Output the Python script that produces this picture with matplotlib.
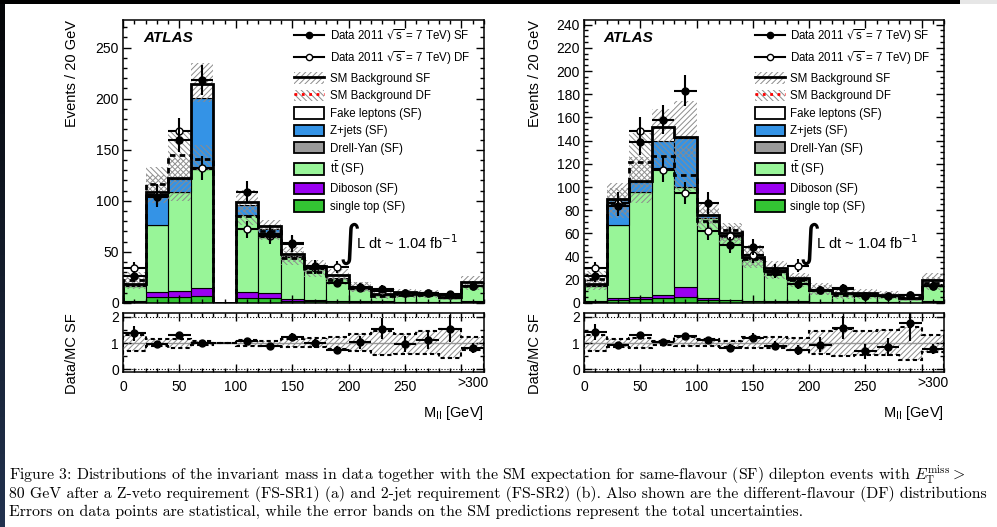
import numpy as np
import matplotlib
matplotlib.use('Agg')
import matplotlib.pyplot as plt
from matplotlib.patches import Patch, Rectangle
from matplotlib.lines import Line2D
from matplotlib.ticker import MultipleLocator, FixedLocator

plt.rcParams['font.family'] = ['Liberation Sans', 'DejaVu Sans']
plt.rcParams['hatch.linewidth'] = 0.7

# 20 GeV bins in m_ll, last bin is the >300 overflow
edges = np.arange(0, 340, 20)
centers = edges[:-1] + 10

# ---- FS-SR1 (Z-veto), same-flavour MC components
sr1_single_top = [1, 5.5, 6, 7, 0, 5, 4.5, 2, 2, 1.5, 1, 1, 1, 0.8, 0.8, 1]
sr1_diboson = [0.5, 5.5, 6, 8, 0, 6, 5.5, 1.5, 1, 0.5, 0.5, 0.5, 0.3, 0.3, 0.3, 0.5]
sr1_ttbar = [15, 65.5, 97, 116, 0, 75, 55, 42, 30, 22, 12.5, 6.5, 6.7, 6.9, 3.9, 16]
sr1_drell_yan = [0, 0, 0, 0, 0, 0, 0, 0, 0, 0, 0, 0, 0, 0, 0, 0]
sr1_zjets = [1, 30, 12, 70, 0, 10, 7, 0.5, 0.5, 0.5, 0.5, 0.2, 0.5, 0.2, 0.2, 0.5]
sr1_fakes = [1.5, 2.5, 1, 13, 0, 3, 3, 1.5, 2.5, 2.5, 1, 0.8, 1.9, 0.8, 0.6, 3]
sr1_mc_df = [23, 116, 145, 141, 0, 85, 70, 44, 30, 23, 15, 7, 8, 8, 6, 17]
sr1_data_sf = [26, 104, 160, 218, np.nan, 109, 68, 59, 36, 20, 16, 14, 10, 10, 9, 17]
sr1_data_df = [34, 106, 168, 132, np.nan, 72, 66, 58, 34, 35, 15, 12, 10, 10, 8, 17]
sr1_band_lo = [0.7, 0.9, 0.82, 0.92, 1, 0.9, 0.88, 0.85, 0.85, 0.78, 0.7, 0.55, 0.6, 0.6, 0.45, 0.75]
sr1_band_hi = [1.3, 1.15, 1.16, 1.1, 1, 1.12, 1.08, 1.15, 1.18, 1.22, 1.35, 1.45, 1.35, 1.45, 1.55, 1.25]

# ---- FS-SR2 (2 jets), same-flavour MC components
sr2_single_top = [1, 3, 3.5, 4, 5, 3, 2.5, 1.5, 1, 1, 0.8, 0.8, 0.7, 0.6, 0.3, 1]
sr2_diboson = [0.5, 1.5, 2, 3, 9, 1, 0.5, 0.5, 0.5, 0.3, 0.2, 0.2, 0.2, 0.2, 0.1, 0.5]
sr2_ttbar = [13.5, 62.5, 90.5, 109, 86, 69, 54, 36, 25.5, 18.7, 10, 6.5, 6.9, 5.5, 3.2, 14]
sr2_drell_yan = [0, 0, 0, 0, 0, 0, 0, 0, 0, 0, 0, 0, 0, 0, 0, 0]
sr2_zjets = [0.5, 22, 8.5, 24, 42, 3, 1.5, 0.5, 0.5, 0.5, 0.3, 0.2, 0.3, 0.2, 0.1, 0.5]
sr2_fakes = [0.5, 1, 0.5, 12, 1, 0, 1.5, 1.5, 2.5, 1, 0.3, 0.5, 0.5, 0.5, 0.3, 3.6]
sr2_mc_df = [21, 86, 122, 127, 110, 71, 63, 38, 25, 19.6, 11, 6.6, 7, 6, 5, 17]
sr2_data_sf = [23, 84, 139, 158, 183, 86, 50, 48, 27, 16, 11, 13, 6, 6, 7, 15]
sr2_data_df = [30, 86, 148, 115, 95, 62, 58, 41, 28, 32, 11, 12, 6, 6, 7, 15]
sr2_band_lo = [0.7, 0.85, 0.82, 0.92, 0.88, 0.9, 0.85, 0.8, 0.82, 0.72, 0.6, 0.5, 0.55, 0.55, 0.35, 0.65]
sr2_band_hi = [1.3, 1.15, 1.2, 1.1, 1.22, 1.15, 1.1, 1.25, 1.22, 1.2, 1.45, 1.55, 1.45, 1.5, 1.6, 1.3]

col_single_top = '#33c433'
col_diboson = '#9a00f0'
col_ttbar = '#98f598'
col_drell_yan = '#9a9a9a'
col_zjets = '#3493e6'
col_fakes = 'white'
hatch_col = '0.55'

W, H = 997, 527
fig = plt.figure(figsize=(W / 100, H / 100), dpi=100)


def box(l, t, r, b):
    return [l / W, 1 - b / H, (r - l) / W, (b - t) / H]


def style_axis(ax):
    ax.tick_params(which='both', direction='in', top=True, right=True,
                   labelsize=10, width=1.0)
    ax.tick_params(which='major', length=6)
    ax.tick_params(which='minor', length=3)
    ax.tick_params(axis='y', pad=3)
    for s in ax.spines.values():
        s.set_linewidth(1.1)


def draw_panel(ax, axr, comps, mc_df, data_sf, data_df, lo, hi,
               ymax, ymajor, yminor, lab_x):
    lo = np.array(lo)
    hi = np.array(hi)
    bottom = np.zeros(len(centers))
    for vals, col in zip(comps, [col_single_top, col_diboson, col_ttbar,
                                 col_drell_yan, col_zjets, col_fakes]):
        vals = np.array(vals, dtype=float)
        ax.bar(edges[:-1], vals, width=20, bottom=bottom, align='edge',
               color=col, edgecolor='k', linewidth=0.8, zorder=1)
        bottom = bottom + vals
    total = bottom
    mc_df = np.array(mc_df, dtype=float)

    # uncertainty bands
    ax.bar(edges[:-1], mc_df * (hi - lo), width=20, bottom=mc_df * lo,
           align='edge', fill=False, hatch='\\\\\\\\\\\\', edgecolor=hatch_col,
           linewidth=0, zorder=2)
    ax.bar(edges[:-1], total * (hi - lo), width=20, bottom=total * lo,
           align='edge', fill=False, hatch='//////', edgecolor=hatch_col,
           linewidth=0, zorder=2)
    ax.stairs(total, edges, color='k', linewidth=2.0, zorder=3)
    ax.stairs(mc_df, edges, color='k', linewidth=2.0, linestyle=(0, (2, 1.5)),
              zorder=3)

    data_sf = np.array(data_sf, dtype=float)
    data_df = np.array(data_df, dtype=float)
    ax.errorbar(centers, data_df, yerr=np.sqrt(data_df), xerr=10, fmt='o',
                ms=5, mfc='white', mec='k', color='k', elinewidth=1.5,
                capsize=0, zorder=4)
    ax.errorbar(centers, data_sf, yerr=np.sqrt(data_sf), xerr=10, fmt='o',
                ms=5, color='k', elinewidth=1.5, capsize=0, zorder=5)

    ax.set_xlim(0, 320)
    ax.set_ylim(0, ymax)
    ax.yaxis.set_major_locator(MultipleLocator(ymajor))
    ax.yaxis.set_minor_locator(MultipleLocator(yminor))
    ax.xaxis.set_major_locator(MultipleLocator(50))
    ax.xaxis.set_minor_locator(MultipleLocator(10))
    ax.set_xticklabels([])
    style_axis(ax)

    ax.text(0.055, 0.936, 'ATLAS', transform=ax.transAxes, fontsize=11,
            fontweight='bold', fontstyle='italic', va='center', ha='left')
    ax.text(0.625, 0.21, r'$\int$', transform=ax.transAxes, fontsize=22,
            va='center', ha='center')
    ax.text(0.645, 0.215, r'L dt ~ 1.04 fb$^{-1}$', transform=ax.transAxes,
            fontsize=10.5, va='center', ha='left')

    handles = [
        Line2D([], [], color='k', marker='o', ms=4.5, lw=1.5),
        Line2D([], [], color='k', marker='o', mfc='white', ms=4.5, lw=1.5),
        (Patch(fc='none', ec=hatch_col, hatch='//////', lw=0),
         Line2D([], [], color='k', lw=2)),
        (Patch(fc='none', ec=hatch_col, hatch='\\\\\\\\\\\\', lw=0),
         Line2D([], [], color='red', lw=2, ls=':')),
        Patch(fc=col_fakes, ec='k', lw=1.3),
        Patch(fc=col_zjets, ec='k', lw=1.3),
        Patch(fc=col_drell_yan, ec='k', lw=1.3),
        Patch(fc=col_ttbar, ec='k', lw=1.3),
        Patch(fc=col_diboson, ec='k', lw=1.3),
        Patch(fc=col_single_top, ec='k', lw=1.3),
    ]
    labels = [
        r'Data 2011 $\sqrt{\rm s}$ = 7 TeV) SF',
        r'Data 2011 $\sqrt{\rm s}$ = 7 TeV) DF',
        'SM Background SF',
        'SM Background DF',
        'Fake leptons (SF)',
        'Z+jets (SF)',
        'Drell-Yan (SF)',
        r't$\bar{\rm t}$ (SF)',
        'Diboson (SF)',
        'single top (SF)',
    ]
    ax.legend(handles, labels, loc='upper left', bbox_to_anchor=(0.475, 0.975),
              frameon=False, fontsize=8.3, handlelength=2.6, handleheight=1.15,
              handletextpad=0.45, labelspacing=0.42, borderaxespad=0,
              borderpad=0)

    # data / MC ratio
    with np.errstate(divide='ignore', invalid='ignore'):
        ratio = np.where(total > 0, data_sf / total, np.nan)
        ratio_err = ratio / np.sqrt(data_sf)
    axr.axhline(1, color='0.6', lw=1.0, zorder=1)
    axr.axhline(0, color='k', lw=0.8, ls=':', zorder=1)
    axr.axhline(2, color='k', lw=0.8, ls=':', zorder=1)
    axr.bar(edges[:-1], hi - lo, width=20, bottom=lo, align='edge',
            fill=False, hatch='//////', edgecolor=hatch_col, linewidth=0,
            zorder=2)
    axr.stairs(lo, edges, color='k', lw=1.5, ls=(0, (2, 1.5)), zorder=3)
    axr.stairs(hi, edges, color='k', lw=1.5, ls=(0, (2, 1.5)), zorder=3)
    axr.errorbar(centers, ratio, yerr=ratio_err, xerr=10, fmt='o', ms=5,
                 color='k', elinewidth=1.5, capsize=0, zorder=4)
    axr.set_xlim(0, 320)
    axr.set_ylim(-0.1, 2.15)
    axr.yaxis.set_major_locator(FixedLocator([0, 1, 2]))
    axr.yaxis.set_minor_locator(MultipleLocator(0.5))
    axr.xaxis.set_major_locator(MultipleLocator(50))
    axr.xaxis.set_minor_locator(MultipleLocator(10))
    axr.set_xticks([0, 50, 100, 150, 200, 250, 300],
                   ['0', '50', '100', '150', '200', '250', ''])
    style_axis(axr)
    axr.tick_params(axis='x', pad=6)
    axr.text(310, -0.24, '>300', transform=axr.transData, fontsize=10,
             ha='center', va='top')
    axr.text(1.0, -0.55, r'M$_{\rm ll}$ [GeV]', transform=axr.transAxes,
             fontsize=10.5, ha='right', va='top')

    fig.text(lab_x / W, 1 - 20 / H, 'Events / 20 GeV', rotation=90,
             fontsize=10.5, ha='center', va='top')
    fig.text(lab_x / W, 1 - 354 / H, 'Data/MC SF', rotation=90,
             fontsize=10.5, ha='center', va='center')


ax1 = fig.add_axes(box(123, 20, 484, 303))
ax1r = fig.add_axes(box(123, 313, 484, 372))
draw_panel(ax1, ax1r,
           [sr1_single_top, sr1_diboson, sr1_ttbar, sr1_drell_yan, sr1_zjets, sr1_fakes],
           sr1_mc_df, sr1_data_sf, sr1_data_df, sr1_band_lo, sr1_band_hi,
           277, 50, 10, 72)

ax2 = fig.add_axes(box(584, 20, 944, 303))
ax2r = fig.add_axes(box(584, 313, 944, 372))
draw_panel(ax2, ax2r,
           [sr2_single_top, sr2_diboson, sr2_ttbar, sr2_drell_yan, sr2_zjets, sr2_fakes],
           sr2_mc_df, sr2_data_sf, sr2_data_df, sr2_band_lo, sr2_band_hi,
           244, 20, 5, 535)

# caption set in Computer Modern
caption = [
    r'Figure 3: Distributions of the invariant mass in data together with the SM expectation '
    r'for same-flavour (SF) dilepton events with $E_{\mathrm{T}}^{\mathrm{miss}} >$',
    r'80 GeV after a Z-veto requirement (FS-SR1) (a) and 2-jet requirement (FS-SR2) (b). '
    r'Also shown are the different-flavour (DF) distributions',
    r'Errors on data points are statistical, while the error bands on the SM predictions '
    r'represent the total uncertainties.',
]
for i, line in enumerate(caption):
    fig.text(9 / W, 1 - (475 + 18.5 * i) / H, line, family='cmr10',
             math_fontfamily='cm', fontsize=11.35, ha='left', va='center')

# window edges of the page view
fig.add_artist(Rectangle((0, 1 - 4 / H), 960 / W, 4 / H, transform=fig.transFigure,
                         color='black', lw=0))
fig.add_artist(Rectangle((960 / W, 1 - 4 / H), 37 / W, 4 / H,
                         transform=fig.transFigure, color='#e6e6e6', lw=0))
strip = fig.add_axes([0, 0, 5 / W, 1 - 4 / H])
strip.imshow(np.linspace(0, 1, 100).reshape(-1, 1), aspect='auto',
             cmap=matplotlib.colors.LinearSegmentedColormap.from_list(
                 'edge', ['#050608', '#22324f']))
strip.axis('off')

fig.savefig('out.png', dpi=100)
